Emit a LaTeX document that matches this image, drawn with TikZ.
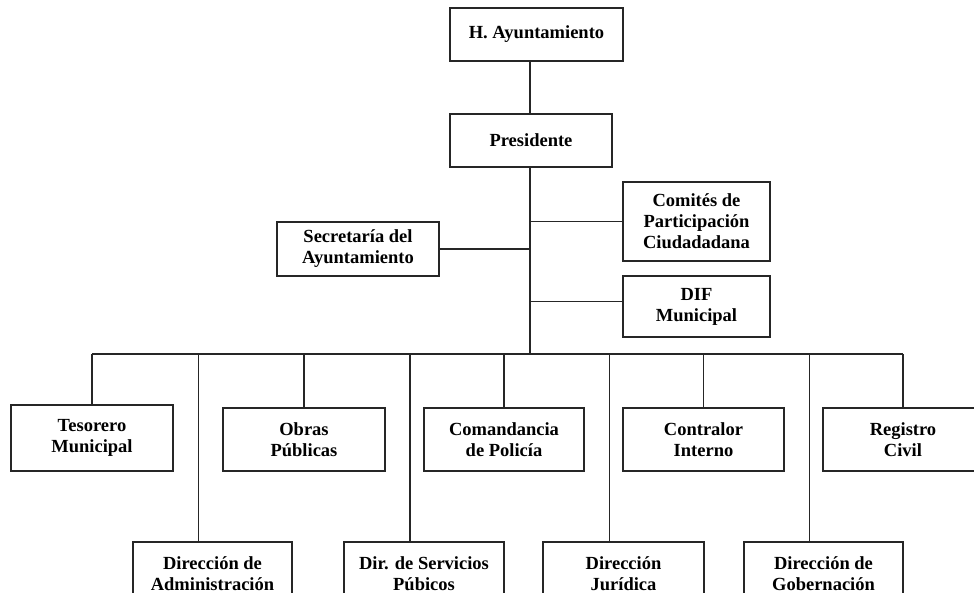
\documentclass[tikz,border=0pt]{standalone}
\usepackage{fontspec}
\setmainfont{Liberation Serif}
\begin{document}
\begin{tikzpicture}[x=1pt,y=-1pt,
  box/.style={draw=black!85, line width=1.8pt, fill=white, align=center, inner sep=0pt,
    font=\fontsize{18.5}{21}\selectfont\bfseries, text=black},
  link/.style={draw=black!85, line width=1.8pt}]
\useasboundingbox (0,0) rectangle (974,592);
\clip (0,0) rectangle (974,592);
% top part
\node[box, minimum width=173pt, minimum height=53pt] (ha) at (536.5,34.5) {H. Ayuntamiento};
\node[box, minimum width=162pt, minimum height=53pt] (pres) at (531,140.5) {Presidente};
\node[box, minimum width=162pt, minimum height=54pt] (sec) at (358,249) {Secretaría del\\Ayuntamiento};
\node[box, minimum width=147pt, minimum height=79pt] (com) at (696.5,221.5) {Comités de\\Participación\\Ciudadadana};
\node[box, minimum width=147pt, minimum height=61pt] (dif) at (696.5,306.5) {DIF\\Municipal};
% upper row
\node[box, minimum width=162pt, minimum height=66pt] (tes) at (92,438) {Tesorero\\Municipal};
\node[box, minimum width=162pt, minimum height=63pt] (obr) at (304,439.5) {Obras\\Públicas};
\node[box, minimum width=160pt, minimum height=63pt] (pol) at (504,439.5) {Comandancia\\de Policía};
\node[box, minimum width=161pt, minimum height=63pt] (con) at (703.5,439.5) {Contralor\\Interno};
\node[box, minimum width=160pt, minimum height=63pt] (reg) at (903,439.5) {Registro\\Civil};
% lower row
\node[box, minimum width=159pt, minimum height=64pt] (dadm) at (212.5,574) {Dirección de\\Administración};
\node[box, minimum width=160pt, minimum height=64pt] (dser) at (424,574) {Dir. de Servicios\\Púbicos};
\node[box, minimum width=161pt, minimum height=64pt] (djur) at (623.5,574) {Dirección\\Jurídica};
\node[box, minimum width=159pt, minimum height=64pt] (dgob) at (823.5,574) {Dirección de\\Gobernación};
% trunk
\coordinate (tr) at (530,354);
\draw[link] (ha.south -| tr) -- (pres.north -| tr);
\draw[link] (pres.south -| tr) -- (tr);
\draw[link] (sec.east) -- (sec.east -| tr);
\draw[link] (com.west) -- (com.west -| tr);
\draw[link] ([yshift=5pt]dif.west) -- ([yshift=5pt]dif.west -| tr);
% bus
\draw[link] (tes.north |- tr) -- (reg.north |- tr);
\foreach \n in {tes,obr,pol,con,reg}
  \draw[link] (\n.north) -- (\n.north |- tr);
\foreach \n in {dadm,dser,djur,dgob}
  \draw[link] ([xshift=-14pt]\n.north) -- ([xshift=-14pt]\n.north |- tr);
\end{tikzpicture}
\end{document}
